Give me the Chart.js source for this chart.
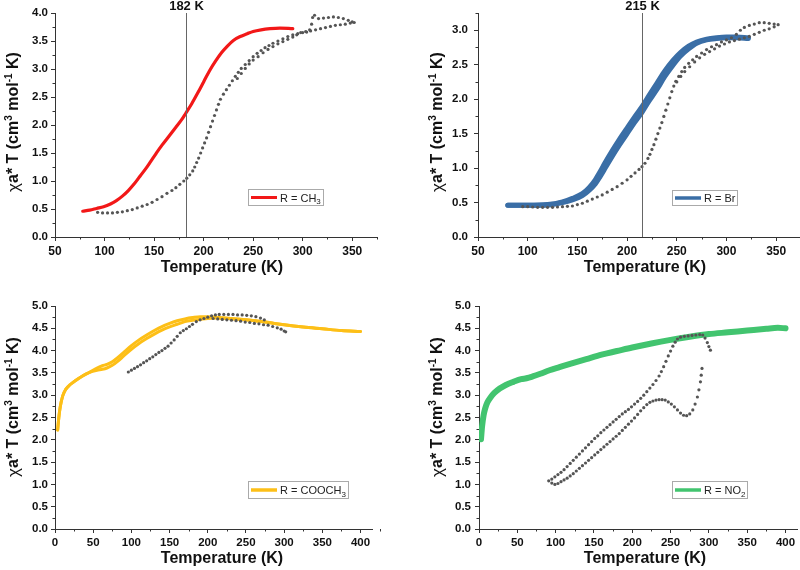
<!DOCTYPE html>
<html><head><meta charset="utf-8">
<script src="https://cdn.jsdelivr.net/npm/chart.js@4/dist/chart.umd.min.js"></script>
<style>
html,body{margin:0;padding:0;background:#fff;overflow:hidden;width:800px;height:570px;}
canvas{position:absolute;}
</style></head><body>
<canvas id="c1" width="400" height="290" style="left:0;top:0"></canvas>
<canvas id="c2" width="410" height="290" style="left:400px;top:0"></canvas>
<canvas id="c3" width="400" height="280" style="left:0;top:290px"></canvas>
<canvas id="c4" width="410" height="280" style="left:400px;top:290px"></canvas>
<script>
// ---------- Panel 1: R = CH3 ----------
const ch3_T = [78,85,92,99,106,112,118,124,130,136,142,147,152,158,165,172,178,182,188,194,200,206,212,218,224,230,237,244,250,258,267,277,290];
const ch3_V = [0.46,0.48,0.51,0.54,0.59,0.65,0.73,0.83,0.95,1.09,1.23,1.36,1.49,1.64,1.80,1.96,2.10,2.21,2.38,2.57,2.77,2.97,3.14,3.29,3.41,3.51,3.58,3.63,3.67,3.70,3.72,3.73,3.72];
const ch3Calc_T = [93,98,103,108,113,118,123,128,133,138,
  143,148,153,158,163,168,172,176,180,183,
  186,189,191,193,195,197,199,201,203,205,
  207,209,211,213,215,217,220,223,226,229,
  232,235,238,242,246,250,254,258,262,266,
  270,275,280,285,290,295,300,304,307,309,
  310,312,316,321,326,331,336,341,346,350,
  352,348,343,338,333,328,323,318,313,308,
  303,298,294,290,285,280,275,270,265,260,
  255,250,246,242,238,234];
const ch3Calc_V = [0.44,0.43,0.43,0.43,0.44,0.45,0.47,0.49,0.52,0.55,
  0.58,0.62,0.67,0.72,0.78,0.83,0.88,0.94,1.00,1.05,
  1.11,1.18,1.25,1.33,1.41,1.50,1.59,1.68,1.77,1.87,
  1.97,2.07,2.17,2.27,2.37,2.46,2.55,2.63,2.71,2.79,
  2.87,2.94,3.01,3.08,3.15,3.22,3.28,3.33,3.38,3.42,
  3.46,3.50,3.54,3.58,3.61,3.63,3.65,3.66,3.70,3.80,
  3.92,3.96,3.90,3.91,3.92,3.93,3.92,3.90,3.87,3.84,
  3.83,3.82,3.80,3.79,3.78,3.76,3.74,3.72,3.70,3.68,
  3.67,3.65,3.61,3.57,3.53,3.49,3.45,3.40,3.35,3.29,
  3.22,3.16,3.09,3.01,2.92,2.83];

// ---------- Panel 2: R = Br ----------
const br_T = [80,100,120,135,145,155,162,168,173,178,185,192,200,208,215,222,230,238,246,254,262,270,280,290,300,310,322];
const brCool_V = [0.46,0.46,0.47,0.51,0.56,0.63,0.72,0.83,0.95,1.08,1.25,1.41,1.58,1.75,1.89,2.05,2.23,2.41,2.56,2.68,2.77,2.83,2.87,2.89,2.90,2.90,2.89];
const brHeat_V = [0.46,0.46,0.465,0.50,0.54,0.60,0.68,0.77,0.88,1.00,1.17,1.33,1.50,1.67,1.81,1.97,2.14,2.33,2.49,2.63,2.73,2.81,2.86,2.88,2.89,2.89,2.88];
const brCalc_T = [95,100,105,110,115,120,125,130,135,140,
  145,150,155,160,165,170,175,180,185,190,
  195,200,204,208,212,215,218,221,223,225,
  227,229,231,233,235,237,239,241,243,245,
  247,249,252,255,258,262,266,270,275,280,
  285,290,295,300,305,310,314,318,323,328,
  333,338,343,348,352,348,343,338,333,328,
  323,318,313,308,303,298,293,288,283,278,
  273,268,263,258,254,250];
const brCalc_V = [0.44,0.44,0.435,0.43,0.43,0.43,0.43,0.435,0.44,0.445,
  0.45,0.47,0.49,0.52,0.55,0.58,0.61,0.65,0.69,0.73,
  0.78,0.83,0.88,0.93,0.98,1.02,1.07,1.14,1.20,1.27,
  1.34,1.42,1.50,1.58,1.66,1.75,1.84,1.93,2.02,2.11,
  2.19,2.26,2.33,2.40,2.46,2.52,2.57,2.62,2.67,2.72,
  2.76,2.79,2.83,2.86,2.89,2.94,3.00,3.04,3.07,3.09,
  3.11,3.11,3.10,3.09,3.08,3.05,3.02,3.00,2.97,2.94,
  2.91,2.89,2.87,2.85,2.83,2.80,2.77,2.73,2.69,2.65,
  2.60,2.54,2.47,2.40,2.33,2.25];

// ---------- Panel 3: R = COOCH3 ----------
const cooch3_T = [3.5,5,7,10,14,20,27,35,45,55,62,68,75,82,90,100,110,120,130,140,150,160,170,180,190,200,210,230,250,275,300,325,350,375,400];
const cooch3Up_V = [2.22,2.50,2.75,2.98,3.13,3.24,3.33,3.42,3.51,3.61,3.66,3.69,3.75,3.84,3.96,4.11,4.24,4.35,4.45,4.54,4.61,4.67,4.71,4.74,4.76,4.76,4.75,4.72,4.69,4.64,4.58,4.53,4.49,4.45,4.43];
const cooch3Dn_V = [2.22,2.50,2.75,2.98,3.13,3.24,3.33,3.42,3.51,3.56,3.58,3.61,3.67,3.76,3.88,4.03,4.16,4.27,4.37,4.46,4.53,4.59,4.65,4.68,4.70,4.72,4.73,4.72,4.69,4.64,4.58,4.53,4.49,4.45,4.43];
const cooch3Calc_T = [96,100,104,108,112,116,120,124,128,132,
  136,140,144,148,152,156,160,164,168,172,
  176,180,185,190,195,200,205,210,215,221,
  227,233,239,245,251,257,263,269,274,207,
  213,219,225,231,237,243,249,255,261,267,
  273,279,285,291,296,300,302];
const cooch3Calc_V = [3.52,3.56,3.60,3.64,3.68,3.73,3.77,3.82,3.86,3.91,
  3.96,4.00,4.05,4.10,4.17,4.24,4.32,4.40,4.45,4.49,
  4.54,4.59,4.65,4.69,4.72,4.75,4.78,4.80,4.81,4.81,
  4.81,4.81,4.80,4.80,4.79,4.78,4.76,4.73,4.69,4.72,
  4.71,4.70,4.69,4.68,4.67,4.66,4.64,4.63,4.61,4.60,
  4.58,4.57,4.54,4.51,4.48,4.44,4.42];

// ---------- Panel 4: R = NO2 ----------
const no2_T = [2.6,4,6,8,11,15,20,27,35,45,55,62,70,80,92,105,120,140,160,180,200,225,250,275,300,325,350,375,390,400];
const no2_V = [2.01,2.30,2.55,2.70,2.84,2.95,3.05,3.15,3.23,3.30,3.36,3.38,3.42,3.48,3.56,3.63,3.71,3.81,3.91,3.99,4.07,4.16,4.24,4.31,4.37,4.41,4.45,4.49,4.51,4.50];
const no2CalcA_T = [91,95,99,103,107,111,115,119,123,127,
  131,135,139,143,147,151,155,159,163,167,
  171,175,179,183,187,191,195,199,203,207,
  211,215,219,223,227,231,235,238,241,244,
  247,250,253,256,259,263,268,273,278,283,
  288,292,295,298,300,302];
const no2CalcA_V = [1.08,1.12,1.17,1.22,1.27,1.33,1.40,1.47,1.54,1.61,
  1.68,1.75,1.82,1.89,1.96,2.03,2.09,2.16,2.22,2.28,
  2.34,2.40,2.46,2.52,2.58,2.63,2.68,2.74,2.80,2.86,
  2.93,3.00,3.08,3.16,3.24,3.33,3.43,3.53,3.64,3.76,
  3.88,3.99,4.10,4.19,4.26,4.30,4.32,4.33,4.34,4.35,
  4.36,4.35,4.28,4.18,4.09,4.01];
const no2CalcB_T = [95,99,103,107,111,115,119,123,127,131,
  135,139,143,147,151,155,159,163,167,171,
  175,179,183,187,191,195,199,203,207,211,
  215,219,223,227,231,235,239,243,247,251,
  255,259,263,267,271,275,279,282,285,287,
  289,290,291];
const no2CalcB_V = [1.03,1.00,1.02,1.06,1.10,1.14,1.19,1.24,1.30,1.36,
  1.42,1.48,1.54,1.60,1.66,1.72,1.78,1.84,1.90,1.96,
  2.02,2.08,2.14,2.21,2.28,2.35,2.42,2.49,2.57,2.65,
  2.72,2.79,2.84,2.87,2.89,2.90,2.90,2.89,2.85,2.80,
  2.74,2.67,2.60,2.55,2.54,2.58,2.67,2.80,2.96,3.12,
  3.30,3.45,3.60];

// ---------- labels ----------
const xTitleText = 'Temperature (K)';
const legendLabels = [['R = CH','3'],['R = Br',''],['R = COOCH','3'],['R = NO','2']];
const markers = [[182,'182 K'],[215,'215 K']];

const FAM = "'Liberation Sans', Arial, Helvetica, sans-serif";
Chart.defaults.font.family = FAM;
Chart.defaults.color = '#111';

const pts = (T, V) => T.map((t, i) => ({x: t, y: V[i]}));
function lineDS(T, V, color, w) {
  return {data: pts(T, V), showLine: true, borderColor: color, backgroundColor: color,
    borderWidth: w, pointRadius: 0, cubicInterpolationMode: 'monotone', fill: false, borderCapStyle: 'round', borderJoinStyle: 'round'};
}
function dotDS(T, V) {
  return {data: pts(T, V), showLine: false, pointRadius: 1.6, pointBackgroundColor: '#555',
    pointBorderWidth: 0, borderColor: '#555', backgroundColor: '#555'};
}

const decor = {
  id: 'decor',
  afterDraw(chart, args, o) {
    const ctx = chart.ctx, a = chart.chartArea, xs = chart.scales.x, ys = chart.scales.y;
    ctx.save();
    ctx.strokeStyle = '#333'; ctx.lineWidth = 1; ctx.beginPath();
    const nx = Math.round((xs.max - xs.min) / o.xMinor);
    for (let k = 0; k <= nx; k++) {
      const v = xs.min + k * o.xMinor;
      if (Math.abs(v / o.xMajor - Math.round(v / o.xMajor)) < 1e-6) continue;
      const px = Math.round(xs.getPixelForValue(v)) + 0.5;
      ctx.moveTo(px, a.bottom); ctx.lineTo(px, a.bottom + 2.5);
    }
    const ny = Math.round((ys.max - ys.min) / o.yMinor);
    for (let k = 0; k <= ny; k++) {
      const v = ys.min + k * o.yMinor;
      if (Math.abs(v / o.yMajor - Math.round(v / o.yMajor)) < 1e-6) continue;
      const py = Math.round(ys.getPixelForValue(v)) + 0.5;
      ctx.moveTo(a.left - 2.5, py); ctx.lineTo(a.left, py);
    }
    ctx.stroke();
    if (o.mark) {
      const px = Math.round(xs.getPixelForValue(o.mark[0])) + 0.5;
      ctx.strokeStyle = '#666'; ctx.lineWidth = 1;
      ctx.beginPath(); ctx.moveTo(px, a.top); ctx.lineTo(px, a.bottom); ctx.stroke();
      ctx.fillStyle = '#111'; ctx.font = 'bold 13px ' + FAM;
      ctx.textAlign = 'center'; ctx.textBaseline = 'alphabetic';
      ctx.fillText(o.mark[1], px, 9.5);
    }
    const L = o.legend;
    ctx.strokeStyle = '#aaa'; ctx.lineWidth = 1;
    ctx.fillStyle = '#fff';
    ctx.fillRect(L.x, L.y, L.w, L.h);
    ctx.strokeRect(L.x + 0.5, L.y + 0.5, L.w, L.h);
    const cy = L.y + L.h / 2 + 0.5;
    ctx.strokeStyle = L.color; ctx.lineWidth = L.lw;
    ctx.beginPath(); ctx.moveTo(L.x + 3, cy); ctx.lineTo(L.x + 29, cy); ctx.stroke();
    ctx.fillStyle = '#222'; ctx.textAlign = 'left'; ctx.textBaseline = 'alphabetic';
    ctx.font = '11px ' + FAM;
    ctx.fillText(L.text[0], L.x + 32, cy + 4);
    if (L.text[1]) {
      const w = ctx.measureText(L.text[0]).width;
      ctx.font = '8px ' + FAM;
      ctx.fillText(L.text[1], L.x + 32 + w, cy + 6.5);
    }
    ctx.fillStyle = '#111';
    ctx.font = 'bold 16px ' + FAM; ctx.textAlign = 'center'; ctx.textBaseline = 'middle';
    ctx.fillText(xTitleText, o.xt[0], o.xt[1]);
    const runs = [
      {t: 'χ', f: '17px ' + FAM, dy: 0},
      {t: 'a* T (cm', f: 'bold 16px ' + FAM, dy: 0},
      {t: '3', f: 'bold 10px ' + FAM, dy: -5},
      {t: ' mol', f: 'bold 16px ' + FAM, dy: 0},
      {t: '-1', f: 'bold 10px ' + FAM, dy: -5},
      {t: ' K)', f: 'bold 16px ' + FAM, dy: 0}
    ];
    let total = 0;
    runs.forEach(r => { ctx.font = r.f; r.w = ctx.measureText(r.t).width; total += r.w; });
    ctx.translate(o.yt[0], o.yt[1]); ctx.rotate(-Math.PI / 2);
    ctx.textAlign = 'left'; ctx.textBaseline = 'middle';
    let x = -total / 2;
    runs.forEach(r => { ctx.font = r.f; ctx.fillText(r.t, x, r.dy + 1); x += r.w; });
    ctx.restore();
  }
};

function makeChart(id, p) {
  return new Chart(document.getElementById(id), {
    type: 'scatter',
    data: {datasets: p.datasets},
    options: {
      responsive: false, animation: false, events: [],
      layout: {padding: {top: p.padTop, right: p.padRight, left: 0, bottom: 0}},
      plugins: {legend: {display: false}, tooltip: {enabled: false}, decor: p.decor},
      scales: {
        x: {type: 'linear', position: 'bottom', min: p.xMin, max: p.xMax,
          ticks: {stepSize: 50, includeBounds: false, autoSkip: false, maxRotation: 0, minRotation: 0,
            padding: 3, font: {size: p.xFont, weight: 'bold'}, color: '#111', callback: v => String(v)},
          grid: {display: true, drawOnChartArea: false, drawTicks: true, tickLength: 4, color: '#333', lineWidth: 1},
          border: {display: true, color: '#333', width: 1},
          afterFit: s => { s.height = p.xH; }},
        y: {type: 'linear', position: 'left', min: 0, max: p.yMax,
          ticks: {stepSize: 0.5, includeBounds: false, autoSkip: false,
            padding: p.yPad, font: {size: 11.5, weight: 'bold'}, color: '#111', callback: v => v.toFixed(1)},
          grid: {display: true, drawOnChartArea: false, drawTicks: true, tickLength: 4, color: '#333', lineWidth: 1},
          border: {display: true, color: '#333', width: 1},
          afterFit: s => { s.width = p.yW; }}
      }
    },
    plugins: [decor]
  });
}

const RED = '#f21818', BLUE = '#3a6ea6', YEL = '#fdbf17', GRN = '#42c46f';

makeChart('c1', {
  datasets: [dotDS(ch3Calc_T, ch3Calc_V), lineDS(ch3_T, ch3_V, RED, 3.2)],
  xMin: 50, xMax: 375, yMax: 4, xFont: 12, yPad: 3, yW: 55, xH: 53, padTop: 13, padRight: 23,
  decor: {xMinor: 25, xMajor: 50, yMinor: 0.25, yMajor: 0.5, mark: markers[0],
    legend: {x: 248, y: 189, w: 75, h: 16, color: RED, lw: 3, text: legendLabels[0]},
    xt: [222, 268], yt: [13, 122]}
});
makeChart('c2', {
  datasets: [dotDS(brCalc_T, brCalc_V), lineDS(br_T, brHeat_V, BLUE, 5), lineDS(br_T, brCool_V, BLUE, 5)],
  xMin: 50, xMax: 375, yMax: 3.25, xFont: 12, yPad: 6, yW: 78, xH: 53, padTop: 13, padRight: 9,
  decor: {xMinor: 25, xMajor: 50, yMinor: 0.25, yMajor: 0.5, mark: markers[1],
    legend: {x: 272, y: 190, w: 65, h: 15, color: BLUE, lw: 3.5, text: legendLabels[1]},
    xt: [245, 268], yt: [37, 122]}
});
makeChart('c3', {
  datasets: [dotDS(cooch3Calc_T, cooch3Calc_V), lineDS(cooch3_T, cooch3Up_V, YEL, 3), lineDS(cooch3_T, cooch3Dn_V, YEL, 3)],
  xMin: 0, xMax: 415, yMax: 5, xFont: 11.5, yPad: 3, yW: 55, xH: 41, padTop: 16, padRight: 28,
  decor: {xMinor: 25, xMajor: 50, yMinor: 0.25, yMajor: 0.5, mark: null,
    legend: {x: 248, y: 191, w: 100, h: 17, color: YEL, lw: 3.5, text: legendLabels[2]},
    xt: [222, 269], yt: [13, 117]}
});
makeChart('c4', {
  datasets: [dotDS(no2CalcA_T, no2CalcA_V), dotDS(no2CalcB_T, no2CalcB_V), lineDS(no2_T, no2_V, GRN, 6)],
  xMin: 0, xMax: 415, yMax: 5, xFont: 11.5, yPad: 4, yW: 79, xH: 41, padTop: 16, padRight: 13,
  decor: {xMinor: 25, xMajor: 50, yMinor: 0.25, yMajor: 0.5, mark: null,
    legend: {x: 272, y: 191, w: 75, h: 17, color: GRN, lw: 3.5, text: legendLabels[3]},
    xt: [245, 269], yt: [37, 117]}
});
</script>
</body></html>
